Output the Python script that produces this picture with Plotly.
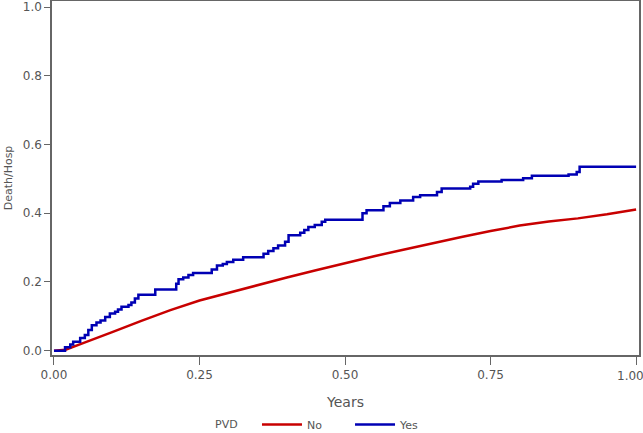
import plotly.graph_objects as go

# Cumulative incidence of death/hospitalization by PVD status
years_no = [0.0, 0.02, 0.05, 0.075, 0.10, 0.15, 0.20, 0.25, 0.30, 0.35, 0.40, 0.45,
            0.50, 0.55, 0.60, 0.65, 0.70, 0.75, 0.80, 0.85, 0.90, 0.95, 1.00]
risk_no = [0.0, 0.003, 0.022, 0.037, 0.054, 0.087, 0.118, 0.146, 0.169, 0.192, 0.213, 0.234,
           0.255, 0.275, 0.294, 0.313, 0.331, 0.348, 0.364, 0.376, 0.385, 0.397, 0.411]

years_yes = [0.0, 0.019, 0.028, 0.033, 0.045, 0.053, 0.059, 0.065, 0.073, 0.080, 0.088,
             0.096, 0.105, 0.110, 0.116, 0.128, 0.133, 0.139, 0.145, 0.174, 0.210, 0.214,
             0.222, 0.231, 0.239, 0.271, 0.280, 0.290, 0.297, 0.308, 0.325, 0.360, 0.368,
             0.377, 0.385, 0.397, 0.403, 0.423, 0.430, 0.437, 0.448, 0.460, 0.466, 0.530,
             0.537, 0.566, 0.577, 0.595, 0.617, 0.629, 0.658, 0.666, 0.715, 0.720, 0.729,
             0.769, 0.806, 0.821, 0.884, 0.898, 0.903, 1.000]
risk_yes = [0.0, 0.010, 0.018, 0.026, 0.037, 0.046, 0.060, 0.074, 0.082, 0.088, 0.098,
            0.108, 0.113, 0.120, 0.128, 0.133, 0.140, 0.152, 0.163, 0.178, 0.195, 0.208,
            0.213, 0.220, 0.226, 0.236, 0.248, 0.252, 0.258, 0.265, 0.272, 0.282, 0.290,
            0.298, 0.306, 0.317, 0.336, 0.343, 0.351, 0.360, 0.366, 0.375, 0.381, 0.400,
            0.409, 0.420, 0.430, 0.437, 0.447, 0.452, 0.462, 0.472, 0.477, 0.486, 0.492,
            0.497, 0.502, 0.509, 0.513, 0.520, 0.535, 0.535]

x_ticks = [0.0, 0.25, 0.5, 0.75, 1.0]
x_tick_labels = ["0.00", "0.25", "0.50", "0.75", "1.00"]
y_ticks = [0.0, 0.2, 0.4, 0.6, 0.8, 1.0]
y_tick_labels = ["0.0", "0.2", "0.4", "0.6", "0.8", "1.0"]
legend_title = "PVD"

RED = "#C80000"
BLUE = "#0000B4"
AXIS = "#666666"
TXT = "#555555"
FONT = "DejaVu Sans"
LEG_Y = -0.196

fig = go.Figure()
fig.add_trace(go.Scatter(x=years_no, y=risk_no, mode="lines", name="No", legend="legend",
                         line=dict(color=RED, width=2.5, shape="linear")))
fig.add_trace(go.Scatter(x=years_yes, y=risk_yes, mode="lines", name="Yes", legend="legend2",
                         line=dict(color=BLUE, width=2.5, shape="hv")))

leg_common = dict(orientation="h", xanchor="left", y=LEG_Y, yanchor="middle",
                  font=dict(size=11, color=TXT), itemwidth=40, bgcolor="rgba(0,0,0,0)")

# last x tick label drawn as an annotation so it stays inside the page, as in the reference
shown_x_labels = x_tick_labels[:-1] + [""]

fig.update_layout(
    width=643, height=433,
    margin=dict(l=52, r=4, t=1, b=78, autoexpand=False),
    paper_bgcolor="white", plot_bgcolor="white",
    font=dict(family=FONT, size=11, color=TXT),
    showlegend=True,
    legend=dict(x=0.3492, **leg_common),
    legend2=dict(x=0.5077, **leg_common),
    annotations=[
        dict(text=legend_title, xref="paper", yref="paper", x=(226 - 52) / 587, y=LEG_Y,
             xanchor="center", yanchor="middle", showarrow=False,
             font=dict(size=11, color=TXT)),
        dict(text=x_tick_labels[-1], xref="x", yref="paper", x=x_ticks[-1], y=0,
             xanchor="center", yanchor="top", xshift=-6, yshift=-12, showarrow=False,
             font=dict(size=12, color=TXT)),
    ],
)
fig.update_xaxes(range=[-0.0034, 1.005], tickvals=x_ticks, ticktext=shown_x_labels,
                 showline=True, linecolor=AXIS, linewidth=1.5, mirror=True,
                 ticks="outside", ticklen=8, tickcolor=AXIS, tickwidth=1.2,
                 showgrid=False, zeroline=False, automargin=False,
                 tickfont=dict(size=12, color=TXT),
                 title=dict(text="Years", font=dict(size=14, color=TXT), standoff=16))
fig.update_yaxes(range=[-0.0125, 1.0175], tickvals=y_ticks, ticktext=y_tick_labels,
                 showline=True, linecolor=AXIS, linewidth=1.5, mirror=True,
                 ticks="outside", ticklen=6, tickcolor=AXIS, tickwidth=1.2,
                 showgrid=False, zeroline=False, automargin=False,
                 ticklabeloverflow="allow",
                 tickfont=dict(size=12, color=TXT),
                 title=dict(text="Death/Hosp", font=dict(size=11, color=TXT), standoff=8))

fig.write_html("out.html", config={"displayModeBar": False},
               post_script="document.body.style.margin='0';document.body.style.padding='0';")
